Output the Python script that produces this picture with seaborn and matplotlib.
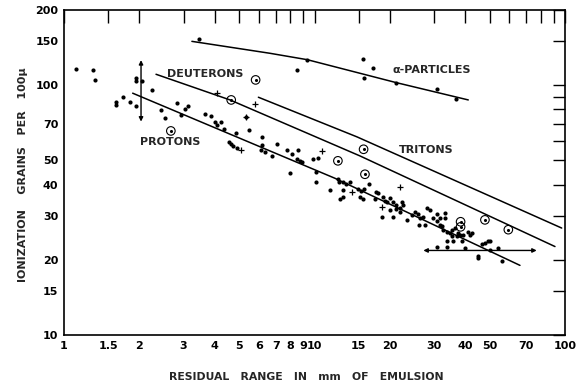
import matplotlib
matplotlib.use("Agg")
import matplotlib.pyplot as plt
import matplotlib.ticker as mticker
import pandas as pd
import seaborn as sns

# ---------------- data ----------------
dot_x = [1.12, 1.30, 1.33, 1.93, 1.93, 2.04, 2.24, 1.72, 1.62, 1.62, 1.835, 1.94, 2.44, 2.54, 2.83, 2.94, 3.05, 3.14,
         3.66, 3.85, 4.02, 4.07, 4.25, 4.35, 4.85, 5.48, 5.33, 4.57, 4.63, 4.71, 4.89, 6.17, 6.17, 6.10, 6.36, 6.77,
         7.10, 7.79, 8.11, 8.62, 8.49, 8.75, 8.89, 7.98,
         9.89, 10.36, 10.14, 10.14, 11.53, 12.38, 12.56, 12.96, 13.36, 13.86, 12.96, 13.03, 12.64, 14.88, 15.33,
         15.76, 16.51, 15.19, 15.57, 17.6, 17.98, 17.44, 18.83, 19.11, 19.41, 20.02, 20.64, 18.55, 20.02, 21.15,
         20.64, 21.15,
         22.3, 22.6, 21.95, 21.95, 23.3, 24.4, 25.2, 25.8, 26.4, 26.2, 27.2, 28.0, 28.9, 29.8, 30.8, 31.7, 32.2,
         32.7, 33.7, 34.8, 35.3, 30.8, 31.7, 33.2, 33.2, 36.4, 37.5, 38.1, 37.0, 39.3, 33.7, 35.3, 30.8, 33.7,
         38.7, 39.9, 27.6, 41.8,
         47.9, 49.4, 50.2, 46.5, 45.1, 45.1, 50.2, 54.2, 55.9, 41.1, 42.4, 35.8]
dot_y = [116, 115.4, 104.7, 106.6, 104, 104.3, 95.4, 89.7, 85.7, 83.6, 85.5, 82.8, 79.4, 74.2, 85.1, 76.0, 80.3, 82.8,
         76.5, 75.5, 71.5, 69.3, 71.1, 66.7, 64.6, 66.0, 74.4, 59.1, 58.0, 57.3, 56.0, 62.1, 57.7, 54.9, 53.9, 52.3,
         58.0, 54.9, 53.0, 54.9, 50.5, 49.5, 49.2, 44.4,
         50.5, 51.0, 44.9, 40.9, 38.1, 42.0, 40.8, 40.8, 40.1, 40.9, 38.1, 35.8, 35.1, 38.3, 37.8,
         38.3, 40.1, 35.8, 35.1, 37.4, 37.0, 35.1, 35.8, 34.5, 34.0, 35.3, 34.2, 29.8, 31.7, 31.9,
         29.6, 33.2,
         34.2, 33.2, 32.2, 31.2, 28.9, 30.3, 31.2, 30.5, 29.4, 27.6, 29.8, 32.2, 31.7, 29.4, 28.5, 27.6, 27.2,
         26.4, 25.9, 25.6, 26.4, 30.5, 29.4, 30.7, 29.4, 26.8, 25.6, 25.2, 24.8, 25.2, 23.7, 24.8, 22.6, 22.6,
         23.7, 22.3, 27.6, 25.2,
         23.3, 23.8, 23.7, 23.2, 20.7, 20.3, 21.9, 22.3, 19.8, 25.9, 25.6, 23.7]

alpha_x = [3.47, 8.49, 9.36, 15.6, 17.1, 15.8, 21.2, 30.9, 36.6]
alpha_y = [153, 115, 126.5, 127.7, 117.5, 107.2, 102.4, 96.3, 88.3]

plus_x = [4.07, 5.79, 5.33, 5.08, 10.7, 14.12, 21.95, 18.55]
plus_y = [92.9, 83.9, 74.4, 54.9, 54.7, 37.5, 39.2, 32.5]

circ_x = [2.67, 5.82, 4.65, 12.4, 15.7, 15.9, 38.3, 38.3, 47.9, 59.4]
circ_y = [65.6, 105, 87.3, 49.8, 55.4, 44.0, 28.4, 27.1, 28.9, 26.4]

alpha_line_x = [3.24, 6.64, 9.36, 21.2, 41.1]
alpha_line_y = [149.8, 134.2, 126.5, 102.4, 87.3]
proton_line_x = [1.88, 12.07, 66.1]
proton_line_y = [92.9, 42.4, 19.0]
deuteron_line_x = [2.33, 4.60, 15.19, 91.2]
deuteron_line_y = [110.6, 87.3, 52.1, 22.6]
triton_line_x = [5.97, 14.78, 97.0]
triton_line_y = [89.5, 62.1, 26.8]

varrow_x = [2.03, 2.03]
varrow_y = [126, 71.5]
harrow_x = [27.2, 77.1]
harrow_y = [21.8, 21.8]

curve_names = ["DEUTERONS", "PROTONS", "TRITONS", "α-PARTICLES"]
curve_label_x = [3.67, 2.65, 27.9, 29.4]
curve_label_y = [110.4, 59.0, 55.1, 115.1]

x_ticks = [1, 1.5, 2, 3, 4, 5, 6, 7, 8, 9, 10, 15, 20, 30, 40, 50, 60, 70, 80, 90, 100]
x_ticklabels = ["1", "1.5", "2", "3", "4", "5", "6", "7", "8", "9", "10", "15", "20", "30", "40", "50", "",
                "70", "", "", "100"]
y_ticks = [10, 15, 20, 30, 40, 50, 60, 70, 80, 90, 100, 150, 200]
y_ticklabels = ["10", "15", "20", "30", "40", "50", "", "70", "", "", "100", "150", "200"]

# ---------------- plot ----------------
sns.set_theme(style="white")
plt.rcParams["font.family"] = ["DejaVu Sans"]
FONT = dict(family="DejaVu Sans", weight="bold")

fig = plt.figure(figsize=(5.83, 3.84), dpi=100)
ax = fig.add_axes([64 / 583, 1 - 335 / 384, 501 / 583, 325 / 384])
ax.set_xscale("log")
ax.set_yscale("log")

for lx, ly in [(alpha_line_x, alpha_line_y), (proton_line_x, proton_line_y),
               (deuteron_line_x, deuteron_line_y), (triton_line_x, triton_line_y)]:
    sns.lineplot(x=lx, y=ly, sort=False, estimator=None, color="black", lw=1.1, ax=ax)

sns.scatterplot(x=dot_x + alpha_x, y=dot_y + alpha_y, color="black", s=9, linewidth=0, ax=ax)
sns.scatterplot(x=plus_x, y=plus_y, color="black", marker="+", s=22, linewidth=0.9, ax=ax)
sns.scatterplot(x=circ_x, y=circ_y, marker="o", s=38, facecolor="none", edgecolor="black",
                linewidth=0.8, ax=ax)
sns.scatterplot(x=circ_x, y=circ_y, color="black", s=5, linewidth=0, ax=ax)

for ax_x, ax_y in [(varrow_x, varrow_y), (harrow_x, harrow_y)]:
    ax.annotate("", xy=(ax_x[1], ax_y[1]), xytext=(ax_x[0], ax_y[0]),
                arrowprops=dict(arrowstyle="<|-|>", color="black", lw=1.0,
                                mutation_scale=6, shrinkA=0, shrinkB=0))

for name, tx, ty in zip(curve_names, curve_label_x, curve_label_y):
    ax.text(tx, ty, name, ha="center", va="center", fontsize=8, **FONT)

ax.set_xlim(1, 100)
ax.set_ylim(10, 200)
ax.xaxis.set_minor_locator(mticker.NullLocator())
ax.yaxis.set_minor_locator(mticker.NullLocator())
ax.set_xticks(x_ticks)
ax.set_xticklabels(x_ticklabels, fontsize=8, **FONT)
ax.set_yticks(y_ticks)
ax.set_yticklabels(y_ticklabels, fontsize=8, **FONT)
ax.tick_params(which="both", direction="in", top=True, right=True, length=9, width=1.0,
               colors="black", pad=4)

for sp in ax.spines.values():
    sp.set_color("black")
    sp.set_linewidth(1.2)

ax.set_xlabel("RESIDUAL   RANGE   IN   mm   OF   EMULSION", fontsize=7.8, **FONT)
ax.xaxis.set_label_coords(0.483, -0.114)
ax.set_ylabel("IONIZATION    GRAINS   PER   100μ", fontsize=8, **FONT)
ax.yaxis.set_label_coords(-0.071, 0.494)

fig.savefig("out.png", dpi=100, facecolor="white")
